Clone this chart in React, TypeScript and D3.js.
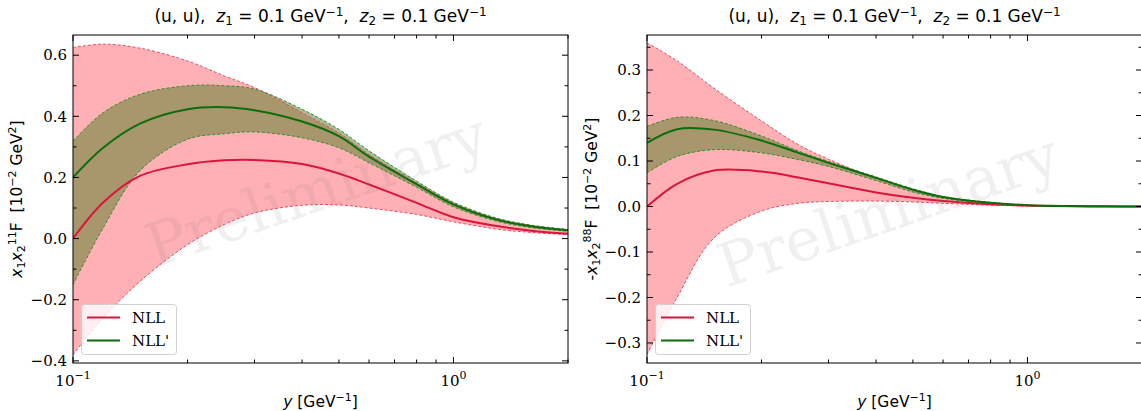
import React from 'react';
import * as d3 from 'd3';

// ---------- data ----------
const yValues = [0.1, 0.12, 0.15, 0.2, 0.25, 0.3, 0.4, 0.5, 0.6, 0.8, 1.0, 1.3, 1.6, 2.0];

// left panel: x1x2 11F
const leftNLL = [0.0, 0.118, 0.205, 0.243, 0.256, 0.257, 0.244, 0.213, 0.177, 0.117, 0.07, 0.041, 0.026, 0.016];
const leftNLLUp = [0.625, 0.636, 0.623, 0.581, 0.532, 0.494, 0.412, 0.345, 0.275, 0.182, 0.116, 0.065, 0.043, 0.029];
const leftNLLLo = [-0.38, -0.26, -0.14, -0.02, 0.046, 0.084, 0.109, 0.11, 0.1, 0.079, 0.055, 0.031, 0.02, 0.013];
const leftNLLp = [0.2, 0.297, 0.376, 0.423, 0.43, 0.42, 0.383, 0.335, 0.268, 0.178, 0.112, 0.062, 0.04, 0.027];
const leftNLLpUp = [0.319, 0.412, 0.472, 0.5, 0.5, 0.489, 0.423, 0.357, 0.287, 0.188, 0.119, 0.067, 0.044, 0.03];
const leftNLLpLo = [-0.151, 0.035, 0.222, 0.325, 0.343, 0.349, 0.33, 0.297, 0.248, 0.168, 0.104, 0.057, 0.036, 0.024];

// right panel: -x1x2 88F
const rightNLL = [0.0, 0.05, 0.079, 0.077, 0.064, 0.051, 0.031, 0.019, 0.012, 0.005, 0.002, 0.0005, 0.0001, 0.0];
const rightNLLUp = [0.36, 0.32, 0.26, 0.188, 0.136, 0.104, 0.062, 0.036, 0.021, 0.008, 0.003, 0.001, 0.0003, 0.0001];
const rightNLLLo = [-0.325, -0.2, -0.069, -0.01, 0.007, 0.011, 0.012, 0.01, 0.007, 0.003, 0.001, 0.0003, 0.0001, 0.0];
const rightNLLp = [0.14, 0.17, 0.169, 0.145, 0.118, 0.096, 0.063, 0.037, 0.021, 0.008, 0.003, 0.001, 0.0003, 0.0001];
const rightNLLpUp = [0.176, 0.196, 0.189, 0.155, 0.122, 0.099, 0.065, 0.039, 0.022, 0.009, 0.003, 0.001, 0.0003, 0.0001];
const rightNLLpLo = [0.074, 0.11, 0.125, 0.118, 0.103, 0.088, 0.057, 0.032, 0.018, 0.007, 0.002, 0.0008, 0.0002, 0.0];

const xDomain = [0.1, 2.0];
const xMajorTicks = [0.1, 1];
const xMinorTicks = [0.2, 0.3, 0.4, 0.5, 0.6, 0.7, 0.8, 0.9, 2];

const leftYDomain = [-0.407, 0.666];
const leftYMajor = [-0.4, -0.2, 0.0, 0.2, 0.4, 0.6];
const leftYMinor = [-0.3, -0.1, 0.1, 0.3, 0.5];

const rightYDomain = [-0.344, 0.377];
const rightYMajor = [-0.3, -0.2, -0.1, 0.0, 0.1, 0.2, 0.3];
const rightYMinor = [-0.25, -0.15, -0.05, 0.05, 0.15, 0.25, 0.35];

const seriesNames = ['NLL', "NLL'"];

// ---------- style ----------
const W = 1141;
const H = 411;
const TOP = 35;
const BOTTOM = 363;
const PW = 495;
const RED = '#dc143c';
const GREEN = '#0b6e0b';
const PINK = '#ffb0b4';
const SERIF = '"DejaVu Serif", serif';
const SANS = '"DejaVu Sans", sans-serif';

type PanelProps = {
  id: string;
  left: number;
  yDomain: number[];
  yMajor: number[];
  yMinor: number[];
  nll: number[];
  nllUp: number[];
  nllLo: number[];
  nlp: number[];
  nlpUp: number[];
  nlpLo: number[];
  negLabel: boolean;
  sup: string;
  yLabelX: number;
  wmX: number;
  wmY: number;
};

function Title({ cx }: { cx: number }) {
  return (
    <text x={cx} y={22} textAnchor="middle" fontFamily={SANS} fontSize={17} fill="#000" style={{ whiteSpace: 'pre' }}>
      <tspan>(u, u),  </tspan>
      <tspan fontStyle="italic">z</tspan>
      <tspan fontSize={12} baselineShift="-3">1</tspan>
      <tspan> = 0.1 GeV</tspan>
      <tspan fontSize={12} baselineShift="6">−1</tspan>
      <tspan>,  </tspan>
      <tspan fontStyle="italic">z</tspan>
      <tspan fontSize={12} baselineShift="-3">2</tspan>
      <tspan> = 0.1 GeV</tspan>
      <tspan fontSize={12} baselineShift="6">−1</tspan>
    </text>
  );
}

function Panel(p: PanelProps) {
  const x = d3.scaleLog().domain(xDomain).range([p.left, p.left + PW]);
  const y = d3.scaleLinear().domain(p.yDomain).range([BOTTOM, TOP]);
  const idx = yValues.map((_, i) => i);
  const curve = d3.curveCatmullRom.alpha(0.5);

  const area = (up: number[], lo: number[]) =>
    d3
      .area<number>()
      .x((i) => x(yValues[i]))
      .y0((i) => y(lo[i]))
      .y1((i) => y(up[i]))
      .curve(curve)(idx) as string;
  const line = (v: number[]) =>
    d3
      .line<number>()
      .x((i) => x(yValues[i]))
      .y((i) => y(v[i]))
      .curve(curve)(idx) as string;

  const fmt = d3.format('.1f');
  const cx = p.left + PW / 2;
  const right = p.left + PW;
  const cy = (TOP + BOTTOM) / 2;

  return (
    <g>
      <defs>
        <clipPath id={`clip-${p.id}`}>
          <rect x={p.left} y={TOP} width={PW} height={BOTTOM - TOP} />
        </clipPath>
      </defs>
      <g clipPath={`url(#clip-${p.id})`}>
        <path d={area(p.nllUp, p.nllLo)} fill={PINK} stroke="none" />
        <path d={area(p.nlpUp, p.nlpLo)} fill="#517b26" fillOpacity={0.5} stroke="none" />
        <path d={line(p.nllUp)} fill="none" stroke="#ee4a64" strokeWidth={1} strokeDasharray="3,2" />
        <path d={line(p.nllLo)} fill="none" stroke="#ee4a64" strokeWidth={1} strokeDasharray="3,2" />
        <path d={line(p.nlpUp)} fill="none" stroke="#2f8f2f" strokeWidth={1} strokeDasharray="3,2" />
        <path d={line(p.nlpLo)} fill="none" stroke="#2f8f2f" strokeWidth={1} strokeDasharray="3,2" />
        <path d={line(p.nll)} fill="none" stroke={RED} strokeWidth={2} />
        <path d={line(p.nlp)} fill="none" stroke={GREEN} strokeWidth={2} />
        <text
          x={p.wmX}
          y={p.wmY}
          textAnchor="middle"
          dominantBaseline="middle"
          fontFamily={SERIF}
          fontSize={60}
          fill="#808080"
          fillOpacity={0.12}
          transform={`rotate(-19 ${p.wmX} ${p.wmY})`}
        >
          Preliminary
        </text>
      </g>

      {/* frame */}
      <rect x={p.left} y={TOP} width={PW} height={BOTTOM - TOP} fill="none" stroke="#000" strokeWidth={1} />

      {/* y ticks */}
      {p.yMajor.map((v) => (
        <g key={`ym${v}`}>
          <line x1={p.left} x2={p.left + 6} y1={y(v)} y2={y(v)} stroke="#000" />
          <line x1={right} x2={right - 6} y1={y(v)} y2={y(v)} stroke="#000" />
          <text x={p.left - 6} y={y(v)} dy="0.35em" textAnchor="end" fontFamily={SERIF} fontSize={15} fill="#000">
            {fmt(v)}
          </text>
        </g>
      ))}
      {p.yMinor.map((v) => (
        <g key={`yn${v}`}>
          <line x1={p.left} x2={p.left + 3.5} y1={y(v)} y2={y(v)} stroke="#000" />
          <line x1={right} x2={right - 3.5} y1={y(v)} y2={y(v)} stroke="#000" />
        </g>
      ))}

      {/* x ticks */}
      {xMajorTicks.map((v) => (
        <g key={`xm${v}`}>
          <line x1={x(v)} x2={x(v)} y1={BOTTOM} y2={BOTTOM - 6} stroke="#000" />
          <line x1={x(v)} x2={x(v)} y1={TOP} y2={TOP + 6} stroke="#000" />
          <text x={x(v)} y={386} textAnchor="middle" fontFamily={SERIF} fontSize={15} fill="#000">
            <tspan>10</tspan>
            <tspan fontSize={11} baselineShift="7">{v < 1 ? '−1' : '0'}</tspan>
          </text>
        </g>
      ))}
      {xMinorTicks.map((v) => (
        <g key={`xn${v}`}>
          <line x1={x(v)} x2={x(v)} y1={BOTTOM} y2={BOTTOM - 3.5} stroke="#000" />
          <line x1={x(v)} x2={x(v)} y1={TOP} y2={TOP + 3.5} stroke="#000" />
        </g>
      ))}

      {/* x label */}
      <text x={cx} y={407} textAnchor="middle" fontFamily={SANS} fontSize={15.5} fill="#000" style={{ whiteSpace: 'pre' }}>
        <tspan fontStyle="italic">y</tspan>
        <tspan> [GeV</tspan>
        <tspan fontSize={11} baselineShift="6">−1</tspan>
        <tspan>]</tspan>
      </text>

      {/* y label */}
      <text
        transform={`translate(${p.yLabelX},${cy}) rotate(-90)`}
        textAnchor="middle"
        fontFamily={SANS}
        fontSize={15.5}
        fill="#000"
        style={{ whiteSpace: 'pre' }}
      >
        {p.negLabel ? <tspan>-</tspan> : null}
        <tspan fontStyle="italic">x</tspan>
        <tspan fontSize={11} baselineShift="-3">1</tspan>
        <tspan fontStyle="italic">x</tspan>
        <tspan fontSize={11} baselineShift="-3">2</tspan>
        <tspan fontSize={11} baselineShift="6">{p.sup}</tspan>
        <tspan>F  [10</tspan>
        <tspan fontSize={11} baselineShift="6">−2</tspan>
        <tspan> GeV</tspan>
        <tspan fontSize={11} baselineShift="6">2</tspan>
        <tspan>]</tspan>
      </text>

      <Title cx={cx} />

      {/* legend */}
      <g>
        <rect x={p.left + 8.5} y={304.5} width={95} height={50} rx={3} fill="#fff" fillOpacity={0.8} stroke="#d0d0d0" strokeWidth={1} />
        {seriesNames.map((name, i) => (
          <g key={name}>
            <line
              x1={p.left + 14}
              x2={p.left + 47}
              y1={317.5 + i * 23}
              y2={317.5 + i * 23}
              stroke={i === 0 ? RED : GREEN}
              strokeWidth={2}
            />
            <text x={p.left + 59} y={317.5 + i * 23} dy="0.35em" fontFamily={SERIF} fontSize={15} fill="#000">
              {name}
            </text>
          </g>
        ))}
      </g>
    </g>
  );
}

export default function App() {
  return (
    <svg
      width={W}
      height={H}
      viewBox={`0 0 ${W} ${H}`}
      style={{ position: 'absolute', left: 0, top: 0, background: '#fff' }}
    >
      <rect x={0} y={0} width={W} height={H} fill="#fff" />
      <Panel
        id="l"
        left={73}
        yDomain={leftYDomain}
        yMajor={leftYMajor}
        yMinor={leftYMinor}
        nll={leftNLL}
        nllUp={leftNLLUp}
        nllLo={leftNLLLo}
        nlp={leftNLLp}
        nlpUp={leftNLLpUp}
        nlpLo={leftNLLpLo}
        negLabel={false}
        sup="11"
        yLabelX={22}
        wmX={318}
        wmY={195}
      />
      <Panel
        id="r"
        left={647}
        yDomain={rightYDomain}
        yMajor={rightYMajor}
        yMinor={rightYMinor}
        nll={rightNLL}
        nllUp={rightNLLUp}
        nllLo={rightNLLLo}
        nlp={rightNLLp}
        nlpUp={rightNLLpUp}
        nlpLo={rightNLLpLo}
        negLabel={true}
        sup="88"
        yLabelX={597}
        wmX={890}
        wmY={215}
      />
    </svg>
  );
}
